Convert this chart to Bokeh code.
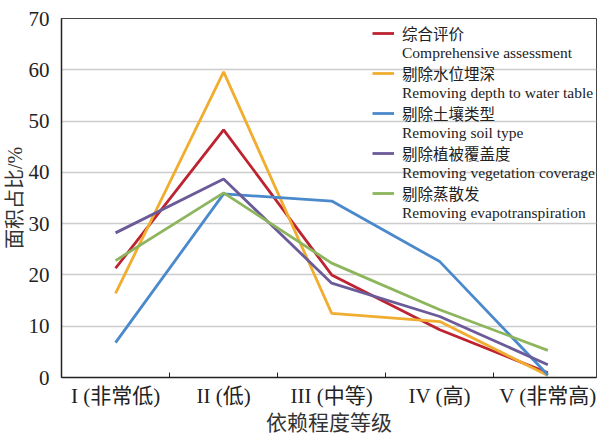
from bokeh.plotting import figure
from bokeh.models import Range1d, FixedTicker, Legend, LegendItem
from bokeh.embed import file_html
from bokeh.resources import INLINE

categories = ["I (非常低)", "II (低)", "III (中等)", "IV (高)", "V (非常高)"]
comprehensive = [21.3, 48.3, 20.0, 9.3, 0.9]
no_water_depth = [16.4, 59.6, 12.5, 10.9, 0.4]
no_soil_type = [6.8, 35.8, 34.4, 22.6, 0.5]
no_vegetation = [28.2, 38.7, 18.4, 11.9, 2.5]
no_evapotranspiration = [22.8, 36.0, 22.3, 13.2, 5.3]

names_cn = ["综合评价", "剔除水位埋深", "剔除土壤类型", "剔除植被覆盖度", "剔除蒸散发"]
names_en = ["Comprehensive assessment", "Removing depth to water table",
            "Removing soil type", "Removing vegetation coverage",
            "Removing evapotranspiration"]
series_values = [comprehensive, no_water_depth, no_soil_type, no_vegetation, no_evapotranspiration]
colors = ["#bd2330", "#f0ad30", "#4a89cc", "#6b5b99", "#8cb55c"]

y_ticks = [0, 10, 20, 30, 40, 50, 60, 70]

FONT = "Liberation Serif, Noto Sans CJK SC"

xs = [i + 0.5 for i in range(len(categories))]

p = figure(width=598, height=437, output_backend="svg", toolbar_location=None,
           x_range=Range1d(0, 4.95), y_range=Range1d(0, 70),
           min_border_left=60, min_border_right=2, min_border_top=18, min_border_bottom=50)
p.background_fill_color = "white"
p.border_fill_color = "white"
p.outline_line_color = "#444444"
p.outline_line_width = 1

items = []
for cn, en, vals, c in zip(names_cn, names_en, series_values, colors):
    r = p.line(xs, vals, line_color=c, line_width=2.8)
    blank = p.line([], [], line_alpha=0)
    items.append(LegendItem(label=cn, renderers=[r]))
    items.append(LegendItem(label=en, renderers=[blank]))

# x axis
p.xaxis.ticker = FixedTicker(ticks=xs, minor_ticks=[1, 2, 3, 4])
p.xaxis.major_label_overrides = {x: c for x, c in zip(xs, categories)}
p.xaxis.major_tick_line_color = None
p.xaxis.minor_tick_in = 5
p.xaxis.minor_tick_out = 0
p.xaxis.minor_tick_line_color = "#222222"
p.xaxis.axis_line_color = "#222222"
p.xaxis.axis_line_width = 1.5
p.xaxis.major_label_text_font = FONT
p.xaxis.major_label_text_font_size = "21px"
p.xaxis.major_label_text_color = "#222222"
p.xaxis.major_label_standoff = 0
p.xaxis.axis_label = "依赖程度等级"
p.xaxis.axis_label_text_font = FONT
p.xaxis.axis_label_text_font_style = "normal"
p.xaxis.axis_label_text_font_size = "21px"
p.xaxis.axis_label_text_color = "#333333"
p.xaxis.axis_label_standoff = 0

# y axis
p.yaxis.ticker = FixedTicker(ticks=y_ticks)
p.yaxis.major_tick_line_color = None
p.yaxis.minor_tick_line_color = None
p.yaxis.axis_line_color = "#222222"
p.yaxis.axis_line_width = 1.5
p.yaxis.major_label_text_font = FONT
p.yaxis.major_label_text_font_size = "21px"
p.yaxis.major_label_text_color = "#222222"
p.yaxis.major_label_standoff = 6
p.yaxis.axis_label = "面积占比/%"
p.yaxis.axis_label_text_font = FONT
p.yaxis.axis_label_text_font_style = "normal"
p.yaxis.axis_label_text_font_size = "20px"
p.yaxis.axis_label_text_color = "#333333"
p.yaxis.axis_label_standoff = 0

p.xgrid.grid_line_color = None
p.ygrid.ticker = FixedTicker(ticks=y_ticks[1:-1])
p.ygrid.grid_line_color = "#cccccc"
p.ygrid.grid_line_width = 1.5

legend = Legend(items=items, location=(311, 155))
legend.border_line_color = None
legend.background_fill_alpha = 0
legend.label_text_font = FONT
legend.label_text_font_size = "15.5px"
legend.label_text_color = "#222222"
legend.label_text_line_height = 1.0
legend.label_height = 16
legend.glyph_width = 22
legend.glyph_height = 16
legend.label_standoff = 8
legend.spacing = 0
legend.padding = 0
legend.margin = 0
p.add_layout(legend)

open("out.html", "w").write(file_html(p, INLINE))
